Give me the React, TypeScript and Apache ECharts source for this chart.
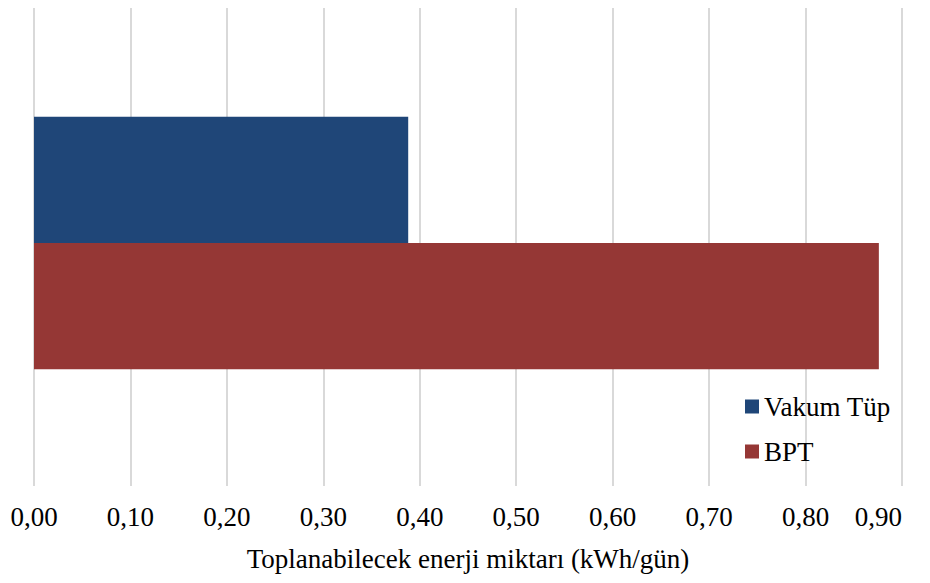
import React, { useEffect, useRef } from "react";
import * as echarts from "echarts";

// Daily collectable energy for each collector type (kWh/gün)
const categories = ["Enerji"];
const seriesNames = ["Vakum Tüp", "BPT"];
const vakumTupValues = [0.388];
const bptValues = [0.876];
const tickMin = 0;
const tickMax = 0.9;
const tickStep = 0.1;

const FONT = "Liberation Serif, serif";

export default function App() {
  const ref = useRef<HTMLDivElement>(null);

  useEffect(() => {
    if (!ref.current) return;
    const chart = echarts.init(ref.current, null, { renderer: "svg" });
    chart.setOption({
      animation: false,
      backgroundColor: "#ffffff",
      grid: { left: 34, right: 28, top: 0, bottom: 97, containLabel: false },
      legend: {
        orient: "vertical",
        left: 745,
        top: 393,
        padding: 0,
        icon: "rect",
        itemWidth: 14,
        itemHeight: 14,
        itemGap: 18,
        data: [seriesNames[0], seriesNames[1]],
        textStyle: { fontFamily: FONT, fontSize: 27, color: "#000" },
      },
      xAxis: {
        type: "value",
        min: tickMin,
        max: tickMax,
        interval: tickStep,
        name: "Toplanabilecek enerji miktarı (kWh/gün)",
        nameLocation: "middle",
        nameGap: 59,
        nameTextStyle: { fontFamily: FONT, fontSize: 27, color: "#000" },
        axisLine: { show: false },
        axisTick: { show: false },
        axisLabel: {
          margin: 17,
          fontFamily: FONT,
          fontSize: 27,
          color: "#000",
          alignMaxLabel: "right",
          formatter: (v: number) => v.toFixed(2).replace(".", ","),
        },
        splitLine: { show: true, lineStyle: { color: "#d9d9d9", width: 2 } },
      },
      yAxis: {
        type: "category",
        data: categories,
        axisLine: { show: false },
        axisTick: { show: false },
        axisLabel: { show: false },
        splitLine: { show: false },
      },
      series: [
        {
          name: seriesNames[0],
          type: "bar",
          data: vakumTupValues,
          barGap: "0%",
          barCategoryGap: "48%",
          itemStyle: { color: "#1F4678" },
        },
        {
          name: seriesNames[1],
          type: "bar",
          data: bptValues,
          barGap: "0%",
          barCategoryGap: "48%",
          itemStyle: { color: "#953735" },
        },
      ],
    });
    return () => chart.dispose();
  }, []);

  return <div ref={ref} style={{ width: 930, height: 583, margin: -8 }} />;
}
